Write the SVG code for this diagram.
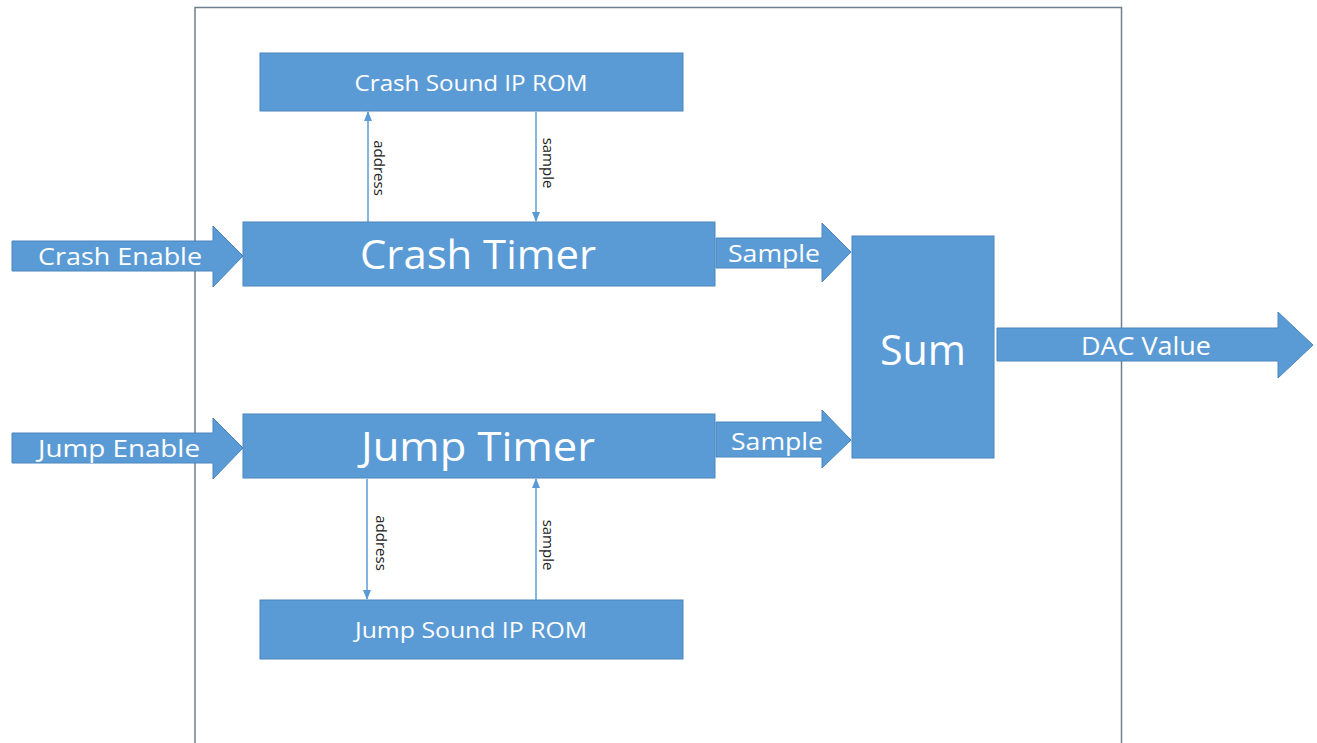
<svg xmlns="http://www.w3.org/2000/svg" width="1317" height="743" viewBox="0 0 1317 743">
  <defs>
    <style>
      .blk { fill: #5b9bd5; stroke: #4a86bd; stroke-width: 1; }
      .frame { fill: none; stroke: #6f7f8e; stroke-width: 1.5; }
      .lbl { fill: #ffffff; font-family: "Open Sans", "Liberation Sans", sans-serif; text-anchor: middle; }
      .wire { stroke: #5b9bd5; stroke-width: 1.5; fill: none; }
      .tag { fill: #222222; font-family: "Open Sans", "Liberation Sans", sans-serif; font-size: 15px; text-anchor: middle; }
    </style>
    <marker id="tip" viewBox="0 0 10 10" refX="9" refY="5" markerWidth="10" markerHeight="10" markerUnits="userSpaceOnUse" orient="auto">
      <path d="M0,1 L10,5 L0,9 Z" fill="#5b9bd5"/>
    </marker>
  </defs>
  <rect width="1317" height="743" fill="#ffffff"/>

  <!-- enclosing module boundary -->
  <path class="frame" d="M195,745 V7.5 H1121.5 V745"/>

  <!-- ROM / timer links -->
  <g id="connectors">
    <line class="wire" x1="368" y1="222" x2="368" y2="112" marker-end="url(#tip)"/>
    <line class="wire" x1="536" y1="112" x2="536" y2="221" marker-end="url(#tip)"/>
    <line class="wire" x1="367" y1="479" x2="367" y2="599" marker-end="url(#tip)"/>
    <line class="wire" x1="536" y1="600" x2="536" y2="479" marker-end="url(#tip)"/>
    <text class="tag" transform="translate(374,168) rotate(90)">address</text>
    <text class="tag" transform="translate(543,163) rotate(90)">sample</text>
    <text class="tag" transform="translate(376,543) rotate(90)">address</text>
    <text class="tag" transform="translate(543,545) rotate(90)">sample</text>
  </g>

  <g id="crash-enable">
    <path class="blk" d="M12,241 H213 V226 L243,256 L213,287 V271 H12 Z"/>
    <text class="lbl" x="120" y="265" font-size="24" textLength="164" lengthAdjust="spacingAndGlyphs">Crash Enable</text>
  </g>
  <g id="jump-enable">
    <path class="blk" d="M12,433 H213 V418 L243,448 L213,479 V463 H12 Z"/>
    <text class="lbl" x="119" y="457" font-size="24" textLength="162" lengthAdjust="spacingAndGlyphs">Jump Enable</text>
  </g>

  <g id="crash-rom">
    <rect class="blk" x="260" y="53" width="423" height="58"/>
    <text class="lbl" x="471" y="91" font-size="22" textLength="233" lengthAdjust="spacingAndGlyphs">Crash Sound IP ROM</text>
  </g>
  <g id="crash-timer">
    <rect class="blk" x="243" y="222" width="472" height="64"/>
    <text class="lbl" x="478" y="269" font-size="40" textLength="236" lengthAdjust="spacingAndGlyphs">Crash Timer</text>
  </g>
  <g id="jump-timer">
    <rect class="blk" x="243" y="414" width="472" height="64"/>
    <text class="lbl" x="478" y="461" font-size="40" textLength="234" lengthAdjust="spacingAndGlyphs">Jump Timer</text>
  </g>
  <g id="jump-rom">
    <rect class="blk" x="260" y="600" width="423" height="59"/>
    <text class="lbl" x="471" y="638" font-size="22" textLength="232" lengthAdjust="spacingAndGlyphs">Jump Sound IP ROM</text>
  </g>

  <g id="crash-sample">
    <path class="blk" d="M716,238 H822 V223 L851,252 L822,282 V268 H716 Z"/>
    <text class="lbl" x="774" y="262" font-size="24" textLength="92" lengthAdjust="spacingAndGlyphs">Sample</text>
  </g>
  <g id="jump-sample">
    <path class="blk" d="M716,422 H822 V410 L851,440 L822,468 V457 H716 Z"/>
    <text class="lbl" x="777" y="450" font-size="24" textLength="92" lengthAdjust="spacingAndGlyphs">Sample</text>
  </g>

  <g id="sum">
    <rect class="blk" x="852" y="236" width="142" height="222"/>
    <text class="lbl" x="923" y="365" font-size="42" textLength="86" lengthAdjust="spacingAndGlyphs">Sum</text>
  </g>

  <g id="dac-value">
    <path class="blk" d="M997,328 H1278 V312 L1313,345 L1278,378 V361 H997 Z"/>
    <text class="lbl" x="1146" y="355" font-size="25" textLength="130" lengthAdjust="spacingAndGlyphs">DAC Value</text>
  </g>
</svg>
